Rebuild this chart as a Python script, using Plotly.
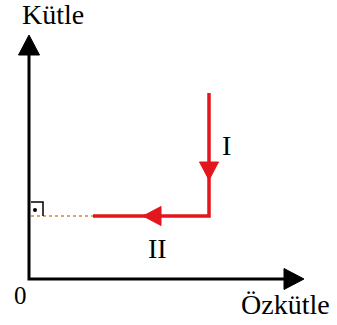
import plotly.graph_objects as go

# diagram data (units: arbitrary, origin at the axes corner)
axis_x_end = 13.75      # Özkütle axis tip
axis_y_end = 12.2       # Kütle axis tip
path_x = [9.0, 9.0, 3.2]        # I goes down, II goes left
path_y = [9.3, 3.15, 3.15]
arrow_I_tip = (9.0, 4.95)
arrow_II_tip = (5.7, 3.15)
labels = ["Kütle", "Özkütle", "0", "I", "II"]

RED = "#e3161d"
BLACK = "#000000"
FONT = "Liberation Serif, Times New Roman, serif"


def tri(tip, direction, length, width):
    # filled triangle points for an arrowhead
    tx, ty = tip
    dx, dy = direction
    bx, by = tx - dx * length, ty - dy * length
    px, py = -dy * width / 2, dx * width / 2
    return [tx, bx + px, bx - px, tx], [ty, by + py, by - py, ty]


fig = go.Figure()

# axes
fig.add_trace(go.Scatter(x=[0, 0, axis_x_end - 0.5], y=[axis_y_end - 0.5, 0, 0],
                         mode="lines", line=dict(color=BLACK, width=3)))
for tip, d in [((0, axis_y_end), (0, 1)), ((axis_x_end, 0), (1, 0))]:
    tx, ty = tri(tip, d, 1.0, 1.05)
    fig.add_trace(go.Scatter(x=tx, y=ty, fill="toself", fillcolor=BLACK,
                             mode="lines", line=dict(color=BLACK, width=1)))

# dotted guide to the mass axis
fig.add_trace(go.Scatter(x=[0.1, path_x[-1]], y=[path_y[-1], path_y[-1]], mode="lines",
                         line=dict(color="#d9a66c", width=2, dash="dot")))

# right angle marker
s = 0.7
cy = path_y[-1]
fig.add_trace(go.Scatter(x=[0.1, s, s], y=[cy + s, cy + s, cy], mode="lines",
                         line=dict(color=BLACK, width=1.5)))
fig.add_trace(go.Scatter(x=[0.3], y=[cy + 0.3], mode="markers",
                         marker=dict(color=BLACK, size=4)))

# red path I -> II
fig.add_trace(go.Scatter(x=path_x, y=path_y, mode="lines",
                         line=dict(color=RED, width=3.5)))
for tip, d in [(arrow_I_tip, (0, -1)), (arrow_II_tip, (-1, 0))]:
    tx, ty = tri(tip, d, 0.9, 0.95)
    fig.add_trace(go.Scatter(x=tx, y=ty, fill="toself", fillcolor=RED,
                             mode="lines", line=dict(color=RED, width=1)))

# text
pos = [(1.2, 13.25, 28), (12.8, -1.25, 28), (-0.45, -0.8, 25), (9.85, 6.7, 28), (6.4, 1.55, 28)]
for t, (x, y, sz) in zip(labels, pos):
    fig.add_annotation(x=x, y=y, text=t, showarrow=False, xanchor="center", yanchor="middle",
                       font=dict(family=FONT, size=sz, color=BLACK))

fig.update_layout(
    width=337, height=325,
    margin=dict(l=0, r=0, t=0, b=0),
    paper_bgcolor="white", plot_bgcolor="white",
    showlegend=False,
    xaxis=dict(range=[-1.45, 15.4], visible=False, fixedrange=True),
    yaxis=dict(range=[-2.3, 13.95], visible=False, fixedrange=True),
)

fig.write_html("out.html", config={"displayModeBar": False},
               post_script="document.body.style.margin='0';")
